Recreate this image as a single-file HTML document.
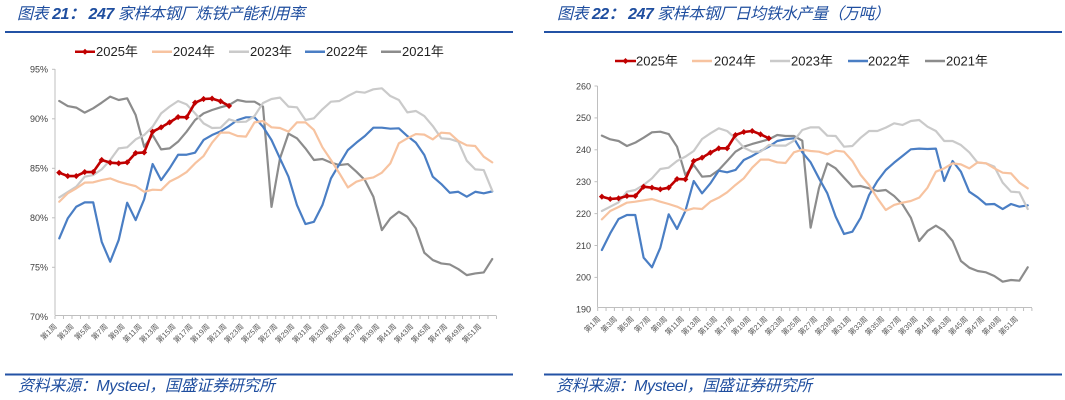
<!DOCTYPE html>
<html>
<head>
<meta charset="utf-8">
<style>
html,body{margin:0;padding:0;background:#fff;}
svg{display:block;}
.t{font-family:"Liberation Sans","Noto Sans CJK SC",sans-serif;}
.yl{font-family:"Liberation Sans",sans-serif;font-size:9px;fill:#404040;text-anchor:end;}
.xl{font-family:"Liberation Sans","Noto Sans CJK SC",sans-serif;font-size:7.5px;fill:#595959;text-anchor:end;}
.lg{font-family:"Liberation Sans","Noto Sans CJK SC",sans-serif;font-size:13px;fill:#222;}
.s{fill:none;vector-effect:non-scaling-stroke;stroke-linejoin:round;stroke-linecap:round;}
</style>
</head>
<body>
<svg width="1065" height="400" viewBox="0 0 1065 400" xmlns="http://www.w3.org/2000/svg">
<defs>
<marker id="mL" markerUnits="userSpaceOnUse" markerWidth="1" markerHeight="1" refX="0" refY="0" style="overflow:visible">
<polygon points="-0.36,0 0,0.31 0.36,0 0,-0.31" fill="#C00000"/>
</marker>
<marker id="mR" markerUnits="userSpaceOnUse" markerWidth="1" markerHeight="1" refX="0" refY="0" style="overflow:visible">
<polygon points="-0.36,0 0,0.95 0.36,0 0,-0.95" fill="#C00000"/>
</marker>
</defs>

<!-- Titles -->
<text class="t" x="17" y="19" font-size="16" font-style="italic" fill="#1F4E9F" textLength="288" lengthAdjust="spacing">图表 <tspan font-weight="bold">21：</tspan> <tspan font-weight="bold">247</tspan> 家样本钢厂炼铁产能利用率</text>
<text class="t" x="557" y="19" font-size="16" font-style="italic" fill="#1F4E9F" textLength="333" lengthAdjust="spacing">图表 <tspan font-weight="bold">22：</tspan> <tspan font-weight="bold">247</tspan> 家样本钢厂日均铁水产量（万吨）</text>
<rect x="5" y="31" width="508" height="2" fill="#2352A5"/>
<rect x="544" y="31" width="518" height="2" fill="#2352A5"/>

<!-- Footers -->
<rect x="5" y="373.5" width="508" height="2" fill="#2352A5"/>
<rect x="544" y="373.5" width="518" height="2" fill="#2352A5"/>
<text class="t" x="18" y="391" font-size="16" font-style="italic" fill="#1F4E9F" textLength="257" lengthAdjust="spacing">资料来源：Mysteel，国盛证券研究所</text>
<text class="t" x="556" y="391" font-size="16" font-style="italic" fill="#1F4E9F" textLength="256" lengthAdjust="spacing">资料来源：Mysteel，国盛证券研究所</text>

<!-- Left legend -->
<g>
<line x1="75" y1="51.7" x2="95" y2="51.7" stroke="#C00000" stroke-width="2.5"/>
<polygon points="82,51.7 85,48.7 88,51.7 85,54.7" fill="#C00000"/>
<text class="lg" x="96" y="56">2025年</text>
<line x1="152" y1="51.7" x2="172" y2="51.7" stroke="#F7C3A0" stroke-width="2.5"/>
<text class="lg" x="173" y="56">2024年</text>
<line x1="229" y1="51.7" x2="249" y2="51.7" stroke="#CACACA" stroke-width="2.5"/>
<text class="lg" x="250" y="56">2023年</text>
<line x1="305" y1="51.7" x2="325" y2="51.7" stroke="#4A7EC4" stroke-width="2.5"/>
<text class="lg" x="326" y="56">2022年</text>
<line x1="381" y1="51.7" x2="401" y2="51.7" stroke="#8C8C8C" stroke-width="2.5"/>
<text class="lg" x="402" y="56">2021年</text>
</g>

<!-- Right legend -->
<g>
<line x1="615" y1="61" x2="636" y2="61" stroke="#C00000" stroke-width="2.5"/>
<polygon points="622.5,61 625.5,58 628.5,61 625.5,64" fill="#C00000"/>
<text class="lg" x="636" y="65.5">2025年</text>
<line x1="692" y1="61" x2="712" y2="61" stroke="#F7C3A0" stroke-width="2.5"/>
<text class="lg" x="714" y="65.5">2024年</text>
<line x1="770" y1="61" x2="790" y2="61" stroke="#CACACA" stroke-width="2.5"/>
<text class="lg" x="791" y="65.5">2023年</text>
<line x1="848" y1="61" x2="868" y2="61" stroke="#4A7EC4" stroke-width="2.5"/>
<text class="lg" x="868" y="65.5">2022年</text>
<line x1="925" y1="61" x2="945" y2="61" stroke="#8C8C8C" stroke-width="2.5"/>
<text class="lg" x="946" y="65.5">2021年</text>
</g>

<!-- Left axes -->
<line x1="55" y1="69" x2="55" y2="315.5" stroke="#BFBFBF" stroke-width="1"/>
<line x1="55" y1="315.5" x2="496.5" y2="315.5" stroke="#BFBFBF" stroke-width="1"/>
<line x1="54.5" y1="317.5" x2="497" y2="317.5" stroke="#BFBFBF" stroke-width="3" stroke-dasharray="1 7.49"/>
<g stroke="#BFBFBF" stroke-width="1">
<line x1="52" y1="69.3" x2="55" y2="69.3"/><line x1="52" y1="118.8" x2="55" y2="118.8"/><line x1="52" y1="168.3" x2="55" y2="168.3"/><line x1="52" y1="217.8" x2="55" y2="217.8"/><line x1="52" y1="267.3" x2="55" y2="267.3"/>
</g>
<text class="yl" x="48" y="72.5">95%</text>
<text class="yl" x="48" y="122">90%</text>
<text class="yl" x="48" y="171.5">85%</text>
<text class="yl" x="48" y="221">80%</text>
<text class="yl" x="48" y="270.5">75%</text>
<text class="yl" x="48" y="320">70%</text>

<!-- Left x labels -->
<g class="xl">
<text transform="translate(57.25,327) rotate(-45)">第1周</text>
<text transform="translate(74.23,327) rotate(-45)">第3周</text>
<text transform="translate(91.21,327) rotate(-45)">第5周</text>
<text transform="translate(108.19,327) rotate(-45)">第7周</text>
<text transform="translate(125.17,327) rotate(-45)">第9周</text>
<text transform="translate(142.15,327) rotate(-45)">第11周</text>
<text transform="translate(159.13,327) rotate(-45)">第13周</text>
<text transform="translate(176.11,327) rotate(-45)">第15周</text>
<text transform="translate(193.09,327) rotate(-45)">第17周</text>
<text transform="translate(210.07,327) rotate(-45)">第19周</text>
<text transform="translate(227.05,327) rotate(-45)">第21周</text>
<text transform="translate(244.03,327) rotate(-45)">第23周</text>
<text transform="translate(261.01,327) rotate(-45)">第25周</text>
<text transform="translate(277.99,327) rotate(-45)">第27周</text>
<text transform="translate(294.97,327) rotate(-45)">第29周</text>
<text transform="translate(311.95,327) rotate(-45)">第31周</text>
<text transform="translate(328.93,327) rotate(-45)">第33周</text>
<text transform="translate(345.91,327) rotate(-45)">第35周</text>
<text transform="translate(362.89,327) rotate(-45)">第37周</text>
<text transform="translate(379.87,327) rotate(-45)">第39周</text>
<text transform="translate(396.85,327) rotate(-45)">第41周</text>
<text transform="translate(413.83,327) rotate(-45)">第43周</text>
<text transform="translate(430.81,327) rotate(-45)">第45周</text>
<text transform="translate(447.79,327) rotate(-45)">第47周</text>
<text transform="translate(464.77,327) rotate(-45)">第49周</text>
<text transform="translate(481.75,327) rotate(-45)">第51周</text>
</g>

<!-- Left series -->
<g transform="matrix(8.49 0 0 -9.9 50.755 1009.8)">
<polyline class="s" stroke="#8C8C8C" stroke-width="2.2" points="1,91.8 2,91.29 3,91.13 4,90.62 5,91.06 6,91.63 7,92.24 8,91.9 9,92.07 10,90.38 11,87.18 12,88.36 13,86.91 14,87.01 15,87.69 16,88.7 17,89.88 18,90.55 19,90.89 20,91.16 21,91.39 22,91.9 23,91.73 24,91.73 25,91.23 26,81.1 27,86.0 28,88.5 29,88.03 30,87.01 31,85.84 32,85.94 33,85.57 34,85.33 35,85.43 36,84.66 37,83.81 38,82.13 39,78.76 40,79.94 41,80.61 42,80.11 43,78.93 44,76.47 45,75.73 46,75.39 47,75.29 48,74.82 49,74.21 50,74.38 51,74.48 52,75.83"/>
<polyline class="s" stroke="#4A7EC4" stroke-width="2.2" points="1,77.92 2,79.94 3,81.12 4,81.56 5,81.56 6,77.58 7,75.56 8,77.75 9,81.52 10,79.77 11,81.86 12,85.43 13,83.81 14,85.0 15,86.37 16,86.37 17,86.58 18,87.86 19,88.36 20,88.73 21,89.27 22,89.88 23,90.15 24,90.15 25,89.2 26,87.86 27,86.0 28,84.15 29,81.29 30,79.37 31,79.6 32,81.29 33,83.98 34,85.43 35,86.85 36,87.59 37,88.26 38,89.1 39,89.1 40,89.0 41,89.04 42,88.26 43,87.59 44,86.34 45,84.15 46,83.41 47,82.53 48,82.63 49,82.13 50,82.63 51,82.47 52,82.67"/>
<polyline class="s" stroke="#CACACA" stroke-width="2.2" points="1,82.06 2,82.6 3,83.14 4,84.15 5,84.32 6,84.89 7,85.84 8,87.01 9,87.12 10,87.92 11,88.36 12,89.2 13,90.55 14,91.23 15,91.8 16,91.46 17,90.55 18,89.54 19,89.07 20,89.1 21,89.95 22,89.68 23,89.71 24,90.28 25,91.6 26,92.0 27,92.14 28,91.23 29,91.16 30,89.88 31,90.05 32,90.96 33,91.73 34,91.8 35,92.3 36,92.74 37,92.64 38,92.98 39,93.08 40,92.3 41,91.9 42,90.65 43,90.79 44,90.28 45,89.27 46,88.03 47,87.96 48,87.69 49,85.77 50,84.89 51,84.82 52,82.74"/>
<polyline class="s" stroke="#F7C3A0" stroke-width="2.2" points="1,81.62 2,82.47 3,82.97 4,83.55 5,83.58 6,83.81 7,83.98 8,83.65 9,83.41 10,83.2 11,82.63 12,82.84 13,82.8 14,83.65 15,84.08 16,84.62 17,85.5 18,86.24 19,87.59 20,88.6 21,88.6 22,88.26 23,88.2 24,89.64 25,89.78 26,89.14 27,89.07 28,88.7 29,89.64 30,89.64 31,88.87 32,87.12 33,85.84 34,84.49 35,83.07 36,83.65 37,83.92 38,84.08 39,84.56 40,85.5 41,87.52 42,88.03 43,88.46 44,88.4 45,87.92 46,88.6 47,88.53 48,87.76 49,87.32 50,87.25 51,86.17 52,85.6"/>
<polyline class="s" stroke="#C00000" stroke-width="2.6" points="1,84.56 2,84.22 3,84.22 4,84.62 5,84.62 6,85.84 7,85.57 8,85.5 9,85.6 10,86.54 11,86.6 12,88.7 13,89.14 14,89.64 15,90.18 16,90.15 17,91.63 18,92.0 19,92.04 20,91.77 21,91.3"/>
<polyline fill="none" stroke="none" marker-start="url(#mL)" marker-mid="url(#mL)" marker-end="url(#mL)" points="1,84.56 2,84.22 3,84.22 4,84.62 5,84.62 6,85.84 7,85.57 8,85.5 9,85.6 10,86.54 11,86.6 12,88.7 13,89.14 14,89.64 15,90.18 16,90.15 17,91.63 18,92.0 19,92.04 20,91.77 21,91.3"/>
</g>

<!-- Right axes -->
<line x1="597.5" y1="86" x2="597.5" y2="307.5" stroke="#BFBFBF" stroke-width="1"/>
<line x1="597.5" y1="307.5" x2="1032" y2="307.5" stroke="#BFBFBF" stroke-width="1"/>
<line x1="597.2" y1="309.5" x2="1032.5" y2="309.5" stroke="#BFBFBF" stroke-width="3" stroke-dasharray="1 7.35"/>
<g stroke="#BFBFBF" stroke-width="1">
<line x1="594.5" y1="86" x2="597.5" y2="86"/><line x1="594.5" y1="117.9" x2="597.5" y2="117.9"/><line x1="594.5" y1="149.8" x2="597.5" y2="149.8"/><line x1="594.5" y1="181.7" x2="597.5" y2="181.7"/><line x1="594.5" y1="213.6" x2="597.5" y2="213.6"/><line x1="594.5" y1="245.5" x2="597.5" y2="245.5"/><line x1="594.5" y1="277.4" x2="597.5" y2="277.4"/>
</g>
<text class="yl" x="591" y="89.3">260</text>
<text class="yl" x="591" y="121.2">250</text>
<text class="yl" x="591" y="153.1">240</text>
<text class="yl" x="591" y="185">230</text>
<text class="yl" x="591" y="216.9">220</text>
<text class="yl" x="591" y="248.8">210</text>
<text class="yl" x="591" y="280.7">200</text>
<text class="yl" x="591" y="312.6">190</text>

<!-- Right x labels -->
<g class="xl">
<text transform="translate(600.88,319.5) rotate(-45)">第1周</text>
<text transform="translate(617.58,319.5) rotate(-45)">第3周</text>
<text transform="translate(634.28,319.5) rotate(-45)">第5周</text>
<text transform="translate(650.98,319.5) rotate(-45)">第7周</text>
<text transform="translate(667.68,319.5) rotate(-45)">第9周</text>
<text transform="translate(684.38,319.5) rotate(-45)">第11周</text>
<text transform="translate(701.08,319.5) rotate(-45)">第13周</text>
<text transform="translate(717.78,319.5) rotate(-45)">第15周</text>
<text transform="translate(734.48,319.5) rotate(-45)">第17周</text>
<text transform="translate(751.18,319.5) rotate(-45)">第19周</text>
<text transform="translate(767.88,319.5) rotate(-45)">第21周</text>
<text transform="translate(784.58,319.5) rotate(-45)">第23周</text>
<text transform="translate(801.28,319.5) rotate(-45)">第25周</text>
<text transform="translate(817.98,319.5) rotate(-45)">第27周</text>
<text transform="translate(834.68,319.5) rotate(-45)">第29周</text>
<text transform="translate(851.38,319.5) rotate(-45)">第31周</text>
<text transform="translate(868.08,319.5) rotate(-45)">第33周</text>
<text transform="translate(884.78,319.5) rotate(-45)">第35周</text>
<text transform="translate(901.48,319.5) rotate(-45)">第37周</text>
<text transform="translate(918.18,319.5) rotate(-45)">第39周</text>
<text transform="translate(934.88,319.5) rotate(-45)">第41周</text>
<text transform="translate(951.58,319.5) rotate(-45)">第43周</text>
<text transform="translate(968.28,319.5) rotate(-45)">第45周</text>
<text transform="translate(984.98,319.5) rotate(-45)">第47周</text>
<text transform="translate(1001.68,319.5) rotate(-45)">第49周</text>
<text transform="translate(1018.38,319.5) rotate(-45)">第51周</text>
</g>

<!-- Right series -->
<g transform="matrix(8.35 0 0 -3.19 593.525 915.4)">
<polyline class="s" stroke="#8C8C8C" stroke-width="2.2" points="1,244.43 2,243.28 3,242.76 4,241.19 5,242.24 6,243.8 7,245.48 8,245.68 9,244.95 10,240.98 11,232.1 12,235.24 13,231.58 14,231.79 15,233.67 16,236.49 17,239.41 18,240.98 19,241.82 20,242.55 21,243.28 22,244.64 23,244.33 24,244.33 25,242.86 26,215.59 27,228.0 28,235.76 29,234.19 30,231.27 31,228.44 32,228.65 33,227.92 34,227.08 35,227.4 36,225.52 37,222.9 38,218.73 39,211.41 40,214.55 41,216.22 42,214.55 43,211.41 44,205.14 45,203.05 46,202.0 47,201.59 48,200.44 49,198.66 50,199.18 51,198.97 52,203.16"/>
<polyline class="s" stroke="#4A7EC4" stroke-width="2.2" points="1,208.59 2,213.81 3,218.31 4,219.56 5,219.56 6,206.19 7,203.16 8,209.32 9,219.77 10,215.18 11,220.82 12,230.22 13,226.35 14,229.49 15,233.46 16,232.94 17,233.67 18,236.8 19,238.06 20,239.62 21,240.98 22,242.76 23,243.28 24,243.6 25,239.2 26,236.07 27,231.06 28,226.35 29,219.04 30,213.61 31,214.34 32,218.73 33,225.83 34,230.22 35,233.67 36,235.97 37,238.06 38,240.15 39,240.36 40,240.25 41,240.36 42,230.22 43,236.49 44,233.14 45,226.87 46,225.1 47,222.9 48,223.01 49,221.44 50,223.01 51,222.17 52,222.59"/>
<polyline class="s" stroke="#CACACA" stroke-width="2.2" points="1,220.82 2,222.17 3,223.53 4,226.87 5,227.4 6,228.97 7,231.06 8,233.98 9,234.4 10,236.49 11,237.85 12,239.62 13,243.38 14,245.16 15,246.73 16,245.89 17,243.6 18,240.67 19,239.41 20,239.41 21,241.5 22,241.3 23,241.3 24,242.86 25,246.21 26,247.04 27,247.04 28,244.43 29,244.33 30,240.98 31,241.19 32,243.8 33,245.89 34,245.89 35,246.94 36,248.3 37,247.78 38,249.03 39,249.34 40,247.25 41,245.89 42,242.76 43,242.76 44,241.5 45,239.2 46,235.97 47,235.76 48,234.71 49,229.7 50,226.87 51,226.67 52,221.44"/>
<polyline class="s" stroke="#F7C3A0" stroke-width="2.2" points="1,218.2 2,220.82 3,222.07 4,223.43 5,223.74 6,224.16 7,224.58 8,223.74 9,223.01 10,222.17 11,220.92 12,221.65 13,221.44 14,223.74 15,225.0 16,226.67 17,228.97 18,231.06 19,234.4 20,236.91 21,236.91 22,236.07 23,235.86 24,239.2 25,240.04 26,239.62 27,239.41 28,238.58 29,239.73 30,239.41 31,236.49 32,232.1 33,228.97 34,224.79 35,221.13 36,222.7 37,223.43 38,223.95 39,225.0 40,228.13 41,233.14 42,234.19 43,235.76 44,235.44 45,234.19 46,236.07 47,235.76 48,234.19 49,232.83 50,232.62 51,229.7 52,227.92"/>
<polyline class="s" stroke="#C00000" stroke-width="2.6" points="1,225.31 2,224.58 3,224.79 4,225.52 5,225.52 6,228.44 7,228.13 8,227.61 9,228.13 10,230.85 11,230.74 12,236.49 13,237.53 14,239.1 15,240.46 16,240.46 17,244.64 18,245.58 19,245.89 20,244.85 21,243.6"/>
<polyline fill="none" stroke="none" marker-start="url(#mR)" marker-mid="url(#mR)" marker-end="url(#mR)" points="1,225.31 2,224.58 3,224.79 4,225.52 5,225.52 6,228.44 7,228.13 8,227.61 9,228.13 10,230.85 11,230.74 12,236.49 13,237.53 14,239.1 15,240.46 16,240.46 17,244.64 18,245.58 19,245.89 20,244.85 21,243.6"/>
</g>
</svg>
</body>
</html>
